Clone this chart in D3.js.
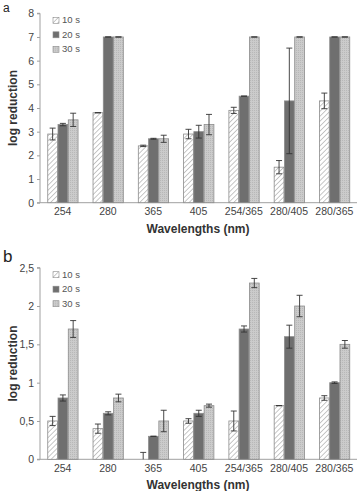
<!DOCTYPE html>
<html>
<head>
<meta charset="utf-8">
<script src="https://cdn.jsdelivr.net/npm/d3@7"></script>
<style>
  body { margin: 0; background: #fff; }
  svg { display: block; font-family: "Liberation Sans", Arial, sans-serif; }
</style>
</head>
<body>
<div id="chart"></div>
<script>
const categories = ["254", "280", "365", "405", "254/365", "280/405", "280/365"];
const series = ["10 s", "20 s", "30 s"];

// panel a
const aVal10 = [2.9, 3.8, 2.4, 2.9, 3.9, 1.5, 4.3];
const aVal20 = [3.3, 7.0, 2.7, 3.0, 4.5, 4.3, 7.0];
const aVal30 = [3.5, 7.0, 2.7, 3.3, 7.0, 7.0, 7.0];
const aErr10 = [0.25, 0, 0.03, 0.2, 0.13, 0.28, 0.33];
const aErr20 = [0.05, 0, 0.02, 0.27, 0, 2.23, 0];
const aErr30 = [0.28, 0, 0.15, 0.43, 0, 0, 0];
const aTicks = [0, 1, 2, 3, 4, 5, 6, 7, 8];

// panel b
const bVal10 = [0.5, 0.4, 0.0, 0.5, 0.5, 0.7, 0.8];
const bVal20 = [0.8, 0.6, 0.3, 0.6, 1.7, 1.6, 1.0];
const bVal30 = [1.7, 0.8, 0.5, 0.7, 2.3, 2.0, 1.5];
const bErr10 = [0.06, 0.06, 0.09, 0.03, 0.13, 0, 0.03];
const bErr20 = [0.04, 0.02, 0, 0.04, 0.04, 0.15, 0.01];
const bErr30 = [0.11, 0.05, 0.14, 0.02, 0.06, 0.14, 0.05];
const bTicks = [0, 0.5, 1, 1.5, 2, 2.5];

const W = 358, H = 491;
const svg = d3.select("#chart").append("svg")
  .attr("width", W).attr("height", H);

// fills
const defs = svg.append("defs");
const hatch = defs.append("pattern")
  .attr("id", "hatch")
  .attr("patternUnits", "userSpaceOnUse")
  .attr("width", 3.5).attr("height", 3.5)
  .attr("patternTransform", "rotate(45)");
hatch.append("rect").attr("width", 3.5).attr("height", 3.5).attr("fill", "#fff");
hatch.append("line")
  .attr("x1", 0).attr("y1", 0).attr("x2", 0).attr("y2", 3.5)
  .attr("stroke", "#9a9a9a").attr("stroke-width", 1.1);

const dots = defs.append("pattern")
  .attr("id", "dots")
  .attr("patternUnits", "userSpaceOnUse")
  .attr("width", 2).attr("height", 2);
dots.append("rect").attr("width", 2).attr("height", 2).attr("fill", "#cbcbcb");
dots.append("rect").attr("width", 1).attr("height", 1).attr("fill", "#b8b8b8");

const fills = ["url(#hatch)", "#6f6f6f", "url(#dots)"];

function drawPanel(opts) {
  const { top, bottom, max, ticks, vals, errs, label, fmt } = opts;
  const left = 40, right = 357;
  const g = svg.append("g");

  const x0 = d3.scaleBand()
    .domain(categories)
    .range([left, right])
    .paddingInner(0.32)
    .paddingOuter(0.16);

  const x1 = d3.scaleBand()
    .domain(series)
    .range([0, x0.bandwidth()]);

  const y = d3.scaleLinear()
    .domain([0, max])
    .range([bottom, top]);

  // y axis
  const yAxis = g.append("g")
    .attr("transform", `translate(${left},0)`)
    .call(d3.axisLeft(y).tickValues(ticks).tickSize(3).tickPadding(3).tickFormat(fmt));
  yAxis.select(".domain").attr("stroke", "#a0a0a0").attr("d", `M-3,${top}H0V${bottom}H-3`);
  yAxis.selectAll(".tick line").attr("stroke", "#a0a0a0");
  yAxis.selectAll("text").attr("fill", "#444").attr("font-size", 10.5);

  // x axis
  const xAxis = g.append("g")
    .attr("transform", `translate(0,${bottom})`)
    .call(d3.axisBottom(x0).tickSize(0).tickPadding(5));
  xAxis.select(".domain").attr("stroke", "#a0a0a0").attr("d", `M${left},0H${right}`);
  xAxis.selectAll("text").attr("fill", "#444").attr("font-size", 10.5);

  // bars
  series.forEach((s, si) => {
    const data = categories.map((c, ci) => ({ c, v: vals[si][ci], e: errs[si][ci] }));
    g.append("g").selectAll("rect")
      .data(data)
      .join("rect")
      .attr("x", d => x0(d.c) + x1(s) + 0.5)
      .attr("y", d => y(d.v))
      .attr("width", x1.bandwidth() - 0.5)
      .attr("height", d => y(0) - y(d.v))
      .attr("fill", fills[si])
      .attr("stroke", "#8c8c8c")
      .attr("stroke-width", 0.8);

    const eb = g.append("g").attr("stroke", "#333").attr("stroke-width", 0.9);
    data.forEach(d => {
      const cx = x0(d.c) + x1(s) + x1.bandwidth() / 2 + 0.25;
      const hi = y(d.v + d.e), lo = y(Math.max(0, d.v - d.e));
      eb.append("line").attr("x1", cx).attr("x2", cx).attr("y1", hi).attr("y2", lo);
      eb.append("line").attr("x1", cx - 3).attr("x2", cx + 3).attr("y1", hi).attr("y2", hi);
      if (d.v - d.e >= 0)
        eb.append("line").attr("x1", cx - 3).attr("x2", cx + 3).attr("y1", lo).attr("y2", lo);
    });
  });

  // legend
  const lg = g.append("g").attr("transform", `translate(53,${top + 4})`);
  series.forEach((s, i) => {
    const row = lg.append("g").attr("transform", `translate(0,${i * 14.5})`);
    row.append("rect").attr("width", 6).attr("height", 6)
      .attr("fill", fills[i]).attr("stroke", "#8c8c8c").attr("stroke-width", 0.6);
    row.append("text").attr("x", 9).attr("y", 6).attr("font-size", 9.5)
      .attr("fill", "#555").text(s);
  });

  // axis titles
  g.append("text")
    .attr("x", 198).attr("y", bottom + 30)
    .attr("text-anchor", "middle")
    .attr("font-weight", "bold").attr("font-size", 12).attr("fill", "#333")
    .text("Wavelengths (nm)");
  g.append("text")
    .attr("transform", `translate(17,${(top + bottom) / 2}) rotate(-90)`)
    .attr("text-anchor", "middle")
    .attr("font-weight", "bold").attr("font-size", 12).attr("fill", "#333")
    .text("log reduction");

  // panel letter
  g.append("text")
    .attr("x", 3).attr("y", label.y)
    .attr("font-size", label.size).attr("fill", "#222")
    .text(label.t);
}

drawPanel({
  top: 13.3, bottom: 202.7, max: 8, ticks: aTicks,
  vals: [aVal10, aVal20, aVal30], errs: [aErr10, aErr20, aErr30],
  label: { t: "a", y: 12, size: 12 }, fmt: d3.format("d")
});

drawPanel({
  top: 267.7, bottom: 459.3, max: 2.5, ticks: bTicks,
  vals: [bVal10, bVal20, bVal30], errs: [bErr10, bErr20, bErr30],
  label: { t: "b", y: 262, size: 17 }, fmt: d => String(d).replace(".", ",")
});
</script>
</body>
</html>
